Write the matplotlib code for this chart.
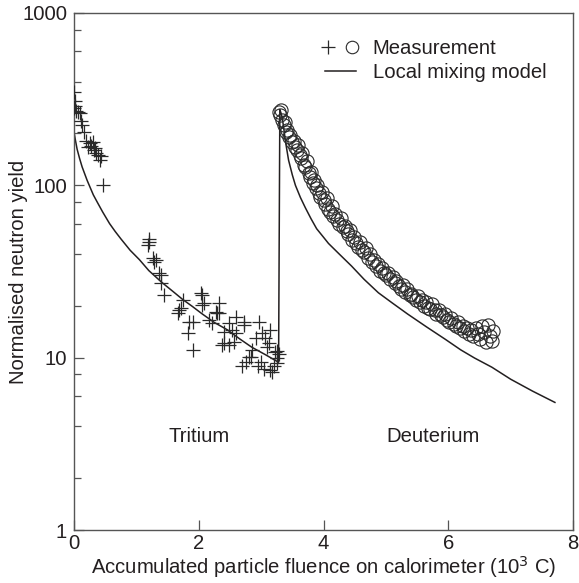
import matplotlib
matplotlib.use("Agg")
import matplotlib.pyplot as plt
from matplotlib.lines import Line2D
from matplotlib.legend_handler import HandlerTuple

plt.rcParams['font.family'] = ['Liberation Sans', 'DejaVu Sans']

# ---- Tritium measurements (+) ----
trit_x = [0.00, 0.01, 0.02, 0.00, 0.04, 0.07, 0.09, 0.12, 0.13, 0.16, 0.20, 0.22,
          0.25, 0.28, 0.30, 0.32, 0.34, 0.36, 0.38, 0.41, 0.43, 0.47,
          1.20, 1.18, 1.21, 1.27, 1.29, 1.31, 1.37, 1.40, 1.40, 1.45,
          1.66, 1.69, 1.71, 1.74, 1.82, 1.85, 1.90, 1.90, 2.04, 2.06, 2.06,
          2.09, 2.17, 2.22, 2.27, 2.33, 2.29, 2.38, 2.41, 2.41, 2.49, 2.54,
          2.59, 2.57, 2.49, 2.59, 2.73, 2.73, 2.96, 3.02, 3.07, 3.12, 3.15,
          2.86, 2.83, 2.80, 2.75, 2.70, 2.91, 3.23, 3.26, 3.26, 3.15, 3.18,
          3.00, 3.05, 3.20, 3.28, 3.25, 3.10, 2.95, 2.33]
trit_y = [350, 310, 290, 280, 270, 268, 262, 235, 225, 203, 180, 168,
          175, 170, 178, 160, 165, 155, 150, 140, 148, 100,
          49, 45, 47, 38, 36, 37, 31, 30, 27, 23,
          18.2, 18.9, 19.5, 21.6, 13.9, 16.1, 16.1, 11.1, 23.6, 20.2, 23.1,
          20.8, 16.5, 15.9, 18.5, 20.8, 18.2, 11.9, 14.1, 12.2, 15.9, 14.5,
          13.9, 12.4, 11.9, 17.3, 15.5, 16.2, 16.2, 13.9, 13.0, 12.2, 14.5,
          11.1, 10.1, 10.1, 9.5, 8.9, 13.0, 10.8, 9.95, 9.3, 8.5, 8.3,
          9.5, 8.6, 9.0, 10.5, 11.0, 11.5, 9.0, 18.2]

# ---- Deuterium measurements (o) ----
deut_x = [3.28, 3.30, 3.32, 3.34, 3.36, 3.38, 3.40, 3.42, 3.44, 3.47, 3.49, 3.52,
          3.55, 3.57, 3.59, 3.62, 3.64, 3.66, 3.69, 3.71, 3.73, 3.76, 3.78, 3.80,
          3.83, 3.85, 3.88, 3.90, 3.93, 3.95, 3.98, 4.00, 4.03, 4.05, 4.08, 4.10,
          4.13, 4.16, 4.19, 4.22, 4.25, 4.28, 4.31, 4.34, 4.37, 4.40, 4.43, 4.46,
          4.49, 4.52, 4.55, 4.58, 4.62, 4.65, 4.68, 4.71, 4.74, 4.78, 4.81, 4.84,
          4.87, 4.91, 4.94, 4.97, 5.01, 5.04, 5.07, 5.11, 5.14, 5.17, 5.21, 5.24,
          5.27, 5.31, 5.34, 5.38, 5.41, 5.44, 5.48, 5.51, 5.54, 5.58, 5.61, 5.64,
          5.68, 5.71, 5.74, 5.78, 5.81, 5.85, 5.88, 5.91, 5.95, 5.98, 6.02, 6.05,
          6.09, 6.12, 6.16, 6.19, 6.23, 6.26, 6.30, 6.33, 6.37, 6.40, 6.44, 6.47,
          6.51, 6.54, 6.58, 6.61, 6.64, 6.67, 6.70, 6.72]
deut_y = [268, 255, 272, 240, 225, 232, 205, 210, 190, 195, 178, 182,
          168, 160, 172, 150, 145, 155, 132, 128, 138, 118, 112, 120,
          103, 108, 96, 100, 90, 86, 92, 82, 78, 84, 73, 70,
          76, 66, 68, 63, 60, 65, 57, 58, 54, 52, 55, 48,
          50, 46, 44, 47, 42, 41, 43, 38, 40, 36, 37, 34,
          35, 32, 33, 31, 30, 31, 28.5, 29.5, 27, 28, 26, 25,
          26.5, 24, 25, 23, 23.5, 22.5, 21.5, 22.8, 21, 21.5, 20, 21,
          19.5, 19.2, 20.5, 18.8, 18, 19, 17.6, 17.2, 18, 16.6, 16.2, 17,
          15.6, 15.2, 16.2, 14.8, 15.2, 14.2, 14.8, 13.8, 14.4, 13.4, 14.8, 13.8,
          12.8, 15.2, 14.0, 12.4, 15.5, 13.4, 12.5, 14.2]

# ---- Local mixing model ----
model_t_x = [0.00, 0.02, 0.05, 0.09, 0.13, 0.17, 0.21, 0.26, 0.31, 0.38, 0.46, 0.57,
             0.66, 0.75, 0.90, 1.05, 1.20, 1.40, 1.60, 1.74, 1.90, 2.05, 2.25, 2.46,
             2.65, 2.85, 3.07, 3.28]
model_t_y = [204, 185, 162, 143, 128, 117, 107, 97, 88, 79, 70, 60,
             54, 49, 42, 37, 32, 27.5, 24, 21.8, 19.8, 18, 16, 14.5,
             12.9, 11.5, 10.4, 9.4]
model_d_x = [3.28, 3.30, 3.32, 3.34, 3.37, 3.39, 3.44, 3.50, 3.55, 3.63, 3.71, 3.80,
             3.89, 4.00, 4.08, 4.25, 4.45, 4.65, 4.88, 5.10, 5.35, 5.65, 5.95, 6.20,
             6.42, 6.70, 7.00, 7.35, 7.71]
model_d_y = [9.4, 275, 262, 245, 205, 180, 140, 115, 100, 85, 74, 64,
             56, 50, 46, 40, 34, 28.5, 23.8, 20.8, 17.9, 15.1, 12.8, 11.1,
             9.96, 8.8, 7.5, 6.4, 5.5]

x_ticks = [0, 2, 4, 6, 8]
y_ticks = [1, 10, 100, 1000]
y_ticklabels = ['1', '10', '100', '1000']

W, H = 579, 583
L, R, T, B = 74, 573, 13, 530
fig = plt.figure(figsize=(W / 100, H / 100), dpi=100)
ax = fig.add_axes([L / W, 1 - B / H, (R - L) / W, (B - T) / H])

ink = '#231f20'
ax.plot(model_t_x + model_d_x, model_t_y + model_d_y, color=ink, lw=1.1, zorder=2)
ax.plot(trit_x, trit_y, linestyle='none', marker='+', ms=10, mew=0.9,
        color='#2a2a2a', zorder=3)
ax.plot(deut_x, deut_y, linestyle='none', marker='o', ms=9.5, mew=0.8,
        mfc='none', mec='#2a2a2a', zorder=3)

ax.set_yscale('log')
ax.set_xlim(0, 8)
ax.set_ylim(1, 1000)
ax.set_xticks(x_ticks)
ax.set_xticklabels([str(t) for t in x_ticks])
ax.set_yticks(y_ticks)
ax.set_yticklabels(y_ticklabels)
ax.yaxis.set_minor_locator(matplotlib.ticker.LogLocator(base=10, subs=[2, 4, 6, 8]))
ax.yaxis.set_minor_formatter(matplotlib.ticker.NullFormatter())

fs = 14.6
ax.tick_params(axis='both', which='major', direction='in', length=7, width=0.9,
               labelsize=fs, colors='#555555', labelcolor=ink)
ax.tick_params(axis='x', which='major', pad=3)
ax.tick_params(axis='y', which='major', pad=5)
ax.tick_params(axis='y', which='minor', direction='in', length=5, width=0.9,
               colors='#555555')
for s in ax.spines.values():
    s.set_color('#555555')
    s.set_linewidth(1.0)

ax.set_xlabel('Accumulated particle fluence on calorimeter (10$^3$ C)',
              fontsize=fs, color=ink, labelpad=1)
ax.set_ylabel('Normalised neutron yield', fontsize=fs, color=ink)
ax.yaxis.set_label_coords(-(L - 28) / (R - L), 0.5)

ax.text(2.0, 3.5, 'Tritium', fontsize=fs, color=ink, ha='center', va='center')
ax.text(5.75, 3.5, 'Deuterium', fontsize=fs, color=ink, ha='center', va='center')

h_plus = Line2D([], [], linestyle='none', marker='+', ms=10, mew=0.9, color='#2a2a2a')
h_circ = Line2D([], [], linestyle='none', marker='o', ms=9, mew=0.8, mfc='none',
                mec='#2a2a2a')
h_line = Line2D([], [], color=ink, lw=1.1)
leg = ax.legend([(h_plus, h_circ), h_line], ['Measurement', 'Local mixing model'],
                handler_map={tuple: HandlerTuple(ndivide=None, pad=0.84)},
                loc='upper left', bbox_to_anchor=((324.5 - L) / (R - L), (B - 39) / (B - T)),
                frameon=False, fontsize=fs, handlelength=1.53, handletextpad=0.84,
                borderpad=0, borderaxespad=0, labelspacing=0.25)
for t in leg.get_texts():
    t.set_color(ink)

fig.savefig('out.png', dpi=100)
